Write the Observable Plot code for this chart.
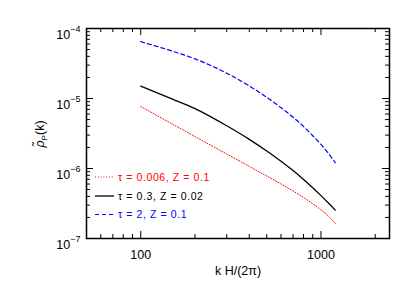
<!DOCTYPE html>
<html><head><meta charset="utf-8">
<script src="https://cdn.jsdelivr.net/npm/d3@7"></script>
<script src="https://cdn.jsdelivr.net/npm/@observablehq/plot@0.6"></script>
<style>
body{margin:0;background:#fff;}
#chart{position:relative;width:415px;height:293px;font-family:"Liberation Sans",Arial,sans-serif;}
</style>
</head><body><div id="chart"></div>
<script>
const k = [100,150,200,300,400,500,600,700,800,900,1000,1100,1200];
const redVals = [7.66e-6,4.31e-6,2.86e-6,1.61e-6,1.07e-6,7.82e-7,6.01e-7,4.76e-7,3.85e-7,3.13e-7,2.57e-7,2.09e-7,1.64e-7];
const blackVals = [1.5e-5,9.8e-6,7.18e-6,4.08e-6,2.61e-6,1.78e-6,1.27e-6,9.33e-7,6.98e-7,5.32e-7,4.1e-7,3.21e-7,2.54e-7];
const blueVals = [6.48e-5,4.74e-5,3.68e-5,2.3e-5,1.51e-5,1.04e-5,7.4e-6,5.4e-6,3.99e-6,2.94e-6,2.21e-6,1.64e-6,1.21e-6];
const seriesNames = ["τ = 0.006, Z = 0.1","τ = 0.3, Z = 0.02","τ = 2, Z = 0.1"];
const seriesColors = ["#ff0000","#000000","#0000ff"];
const seriesDash = ["1,1.8", null, "4,3"];
const seriesWidth = [1, 1.3, 1.2];
const xMajor = [100,1000];
const xMinor = [60,70,80,90,200,300,400,500,600,700,800,900,2000];
const yMajor = [1e-7,1e-6,1e-5,1e-4];
const yMinor = [];
for (const e of [-7,-6,-5]) for (let m=2;m<=9;m++) yMinor.push(m*Math.pow(10,e));

const series = [redVals, blackVals, blueVals];
const rows = [];
series.forEach((vals,i)=>vals.forEach((v,j)=>rows.push({k:k[j], v, s:i})));

const W=415,H=293,mL=86,mR=26,mT=28,mB=55;
const pw=W-mL-mR, ph=H-mT-mB;
const font='"Liberation Sans",Arial,sans-serif';

const lineMarks = series.map((vals,i)=>Plot.line(rows.filter(r=>r.s===i),{
  x:"k", y:"v", stroke: seriesColors[i], strokeWidth: seriesWidth[i],
  strokeDasharray: seriesDash[i], curve:"monotone-x"
}));

const plot = Plot.plot({
  width:W, height:H, marginLeft:mL, marginRight:mR, marginTop:mT, marginBottom:mB,
  style:{fontFamily:font, fontSize:"12.5px", color:"#000", background:"#fff"},
  x:{type:"log", domain:[50,2400]},
  y:{type:"log", domain:[1e-7,1e-4]},
  marks:[
    ...lineMarks,
    Plot.tickX(xMajor,{x:d=>d, insetTop:ph-7, stroke:"#000", strokeWidth:1}),
    Plot.tickX(xMinor,{x:d=>d, insetTop:ph-4, stroke:"#000", strokeWidth:1}),
    Plot.tickX(xMajor,{x:d=>d, insetBottom:ph-7, stroke:"#000", strokeWidth:1}),
    Plot.tickX(xMinor,{x:d=>d, insetBottom:ph-4, stroke:"#000", strokeWidth:1}),
    Plot.tickY(yMajor,{y:d=>d, insetRight:pw-7, stroke:"#000", strokeWidth:1}),
    Plot.tickY(yMinor,{y:d=>d, insetRight:pw-4, stroke:"#000", strokeWidth:1}),
    Plot.tickY(yMajor,{y:d=>d, insetLeft:pw-7, stroke:"#000", strokeWidth:1}),
    Plot.tickY(yMinor,{y:d=>d, insetLeft:pw-4, stroke:"#000", strokeWidth:1}),
    Plot.axisX({ticks:xMajor, tickSize:0, tickPadding:12, tickFormat:d=>String(d), label:null, fontSize:12.5}),
    Plot.axisY({ticks:yMajor, tickSize:0, tickPadding:6, tickFormat:d=>"10^"+Math.round(Math.log10(d)), label:null, fontSize:12.5}),
    Plot.text(["k H/(2π)"],{frameAnchor:"bottom", dy:36, text:d=>d, fontSize:12.5, fill:"#000"}),
    Plot.frame({stroke:"#000", strokeWidth:1.5})
  ]
});

const svg = d3.select(plot);
svg.selectAll('g[aria-label="y-axis tick label"] text').each(function(){
  const t = d3.select(this);
  const s = t.text();
  const exp = s.split("^")[1].replace("-","−");
  t.text(null);
  t.attr("dy","0.5em");
  t.append("tspan").text("10");
  t.append("tspan").attr("font-size","9px").attr("dy","-0.75em").text(exp);
});

// y-axis label
const yl = svg.append("text")
  .attr("transform",`translate(44,${mT+ph/2+1}) rotate(-90)`)
  .attr("text-anchor","middle")
  .attr("font-family",font).attr("font-size","12.5px").attr("fill","#000");
yl.append("tspan").attr("font-style","italic").text("ρ̃");
yl.append("tspan").attr("font-size","8px").attr("dy","3").text("P");
yl.append("tspan").attr("dy","-3").text("(k)");

// legend
const lg = svg.append("g").attr("font-family",font).attr("font-size","10.5px").attr("text-anchor","start");
const legY = [177,196,214.5];
seriesNames.forEach((name,i)=>{
  lg.append("line").attr("x1",95).attr("x2",114).attr("y1",legY[i]).attr("y2",legY[i])
    .attr("stroke",seriesColors[i]).attr("stroke-width",seriesWidth[i])
    .attr("stroke-dasharray",seriesDash[i]);
  lg.append("text").attr("x",118).attr("y",legY[i]).attr("dy","0.35em")
    .attr("text-anchor","start").attr("letter-spacing","0.6px")
    .attr("fill",seriesColors[i]).text(name);
});

document.getElementById("chart").appendChild(plot);
</script>
</body></html>
